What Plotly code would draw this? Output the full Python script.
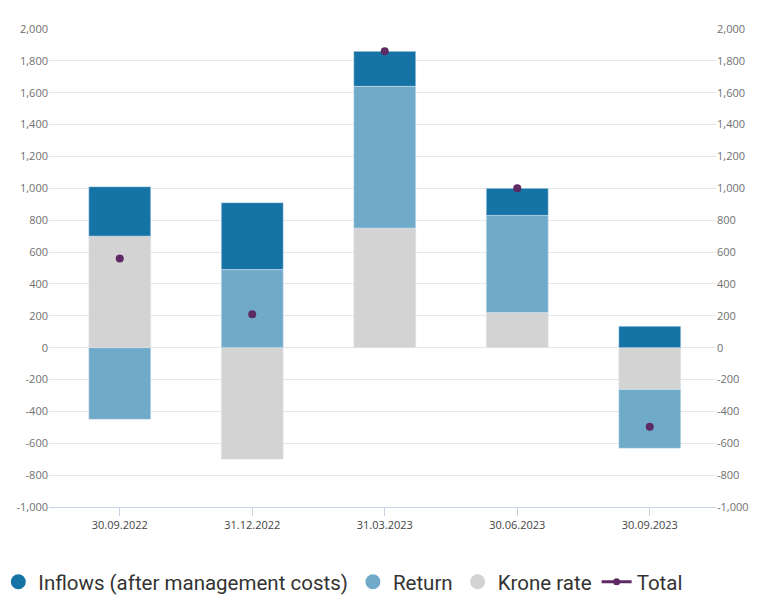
import plotly.graph_objects as go

categories = ["30.09.2022", "31.12.2022", "31.03.2023", "30.06.2023", "30.09.2023"]
inflows = [310, 420, 220, 170, 135]
return_ = [-450, 490, 890, 610, -370]
krone = [700, -700, 750, 220, -262]
total = [560, 210, 1860, 1000, -497]
tick_vals = list(range(-1000, 2001, 200))
tick_text = [f"{v:,}" for v in tick_vals]

c_in = "#1673a6"
c_ret = "#70aac9"
c_kr = "#d3d3d3"
c_tot = "#5e2a63"

fig = go.Figure()
fig.add_trace(go.Bar(x=categories, y=krone, marker_color=c_kr, showlegend=False, width=0.468))
fig.add_trace(go.Bar(x=categories, y=return_, marker_color=c_ret, showlegend=False, width=0.468))
fig.add_trace(go.Bar(x=categories, y=inflows, marker_color=c_in, showlegend=False, width=0.468))
fig.add_trace(go.Scatter(x=categories, y=total, mode="markers",
                         marker=dict(color=c_tot, size=8), showlegend=False))
fig.add_trace(go.Scatter(x=categories, y=[None]*5, yaxis="y2", showlegend=False, hoverinfo="skip"))

for name, col in [("Inflows (after management costs)", c_in), ("Return", c_ret), ("Krone rate", c_kr)]:
    fig.add_trace(go.Scatter(x=[None], y=[None], mode="markers", name=name,
                             marker=dict(color=col, size=15, symbol="circle")))
fig.add_trace(go.Scatter(x=[None], y=[None], mode="lines+markers", name="Total",
                         line=dict(color=c_tot, width=3), marker=dict(color=c_tot, size=7)))

axis_common = dict(range=[-1000, 2000], tickvals=tick_vals, ticktext=tick_text,
                   tickfont=dict(family="Open Sans", size=11, color="#707070"),
                   zeroline=False, automargin=False)
fig.update_layout(
    barmode="relative",
    width=763, height=598,
    margin=dict(l=41, r=55, t=21, b=99, autoexpand=False),
    paper_bgcolor="white", plot_bgcolor="white",
    xaxis=dict(range=[-0.534, 4.5], showline=True, linecolor="#c8d3e6", linewidth=1,
               ticks="outside", tickcolor="#c8d3e6", ticklen=8, showgrid=False,
               automargin=False,
               tickfont=dict(family="Open Sans", size=11, color="#444444")),
    yaxis=dict(**axis_common, showgrid=True, gridcolor="#e6e6e6", gridwidth=1),
    yaxis2=dict(**axis_common, overlaying="y", side="right", showgrid=False),
    legend=dict(orientation="h", x=-0.076, xanchor="left", y=-0.115, yanchor="top",
                font=dict(family="Roboto", size=20.5, color="#333333"),
                itemsizing="trace"),
)
fig.write_html("out.html")
